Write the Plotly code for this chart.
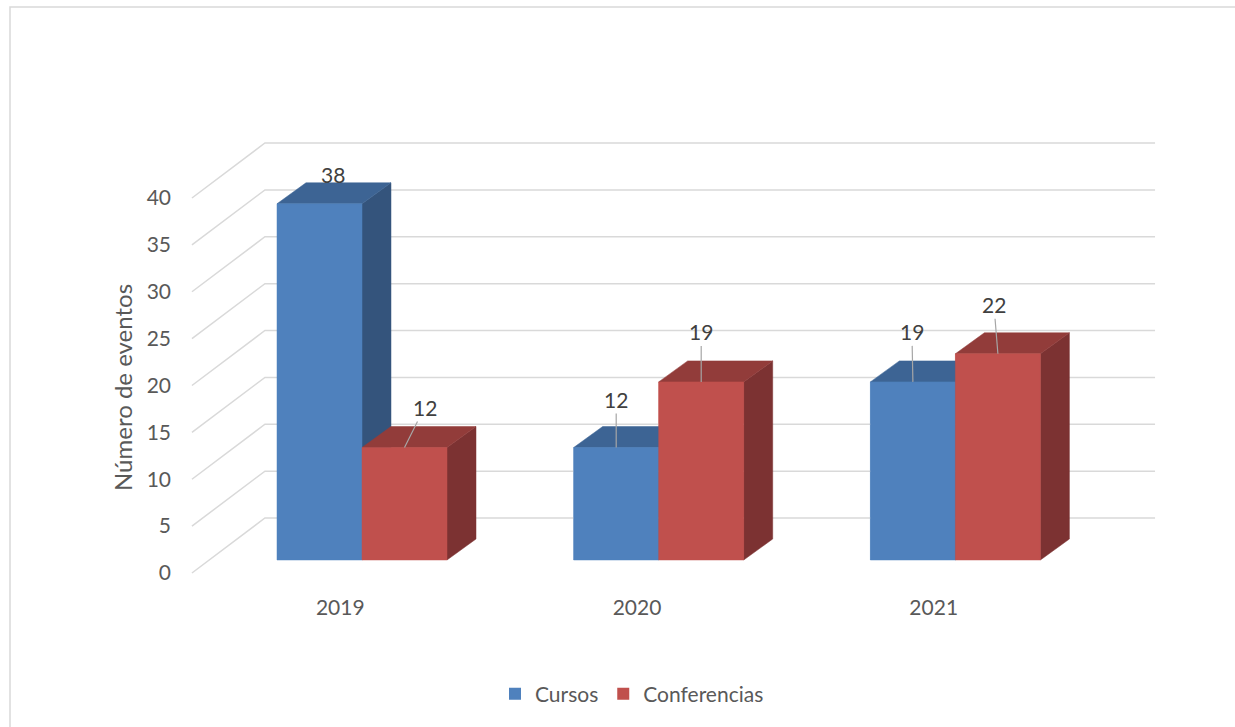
import plotly.graph_objects as go

# ---- data ----
years = ["2019", "2020", "2021"]
cursos = [38, 12, 19]
conferencias = [12, 19, 22]
series_names = ["Cursos", "Conferencias"]
y_ticks = [0, 5, 10, 15, 20, 25, 30, 35, 40]

# ---- styling ----
FRONT = ["#4F81BD", "#C0504D"]
TOP = ["#3D6494", "#923C3A"]
SIDE = ["#34547C", "#7C3232"]
GRID = "#D9D9D9"
TXT = "#595959"
FONT = "Lato"

# page layout (pixels) and the pseudo-3D projection
W, H = 1235, 727
L, R, T, B = 172, 1180, 100, 593
PX_PER_CAT = 296.7          # horizontal pixels per category
PX_PER_UNIT = 9.375         # vertical pixels per value unit
CAT0_PX = 340.3             # pixel x of first category centre on the front plane
ZERO_PX = 573.0             # pixel y of value 0 on the front plane

WALL_DX, WALL_DY = 73 / PX_PER_CAT, 55 / PX_PER_UNIT   # front plane -> back wall
BAR_SHIFT_X, BAR_BASE = 21.7 / PX_PER_CAT, 13 / PX_PER_UNIT  # bar front plane
BAR_DX, BAR_DY = 29 / PX_PER_CAT, 21 / PX_PER_UNIT     # bar depth
BAR_W = 85 / PX_PER_CAT

x_range = [(L - CAT0_PX) / PX_PER_CAT, (R - CAT0_PX) / PX_PER_CAT]
y_range = [(ZERO_PX - B) / PX_PER_UNIT, (ZERO_PX - T) / PX_PER_UNIT]

fig = go.Figure()

# back wall gridlines plus the receding lines on the left side wall
gx, gy = [], []
left, right = -0.5, len(years) - 0.5
for v in y_ticks:
    gx += [left, left + WALL_DX, right + WALL_DX, None]
    gy += [v, v + WALL_DY, v + WALL_DY, None]
fig.add_trace(go.Scatter(x=gx, y=gy, mode="lines", line=dict(color=GRID, width=1.5),
                         hoverinfo="skip", showlegend=False))

series = [cursos, conferencias]
x_pos = list(range(len(years)))

# front faces as real bars (also provide the legend entries)
for s, vals in enumerate(series):
    centers = [i + BAR_SHIFT_X + (s - 0.5) * BAR_W for i in x_pos]
    fig.add_trace(go.Bar(x=centers, y=vals, base=BAR_BASE, width=BAR_W,
                         marker=dict(color=FRONT[s], line=dict(width=0)),
                         name=series_names[s], hoverinfo="skip"))


def face(xs, ys, color):
    fig.add_trace(go.Scatter(x=xs + [xs[0]], y=ys + [ys[0]], mode="lines", fill="toself",
                             fillcolor=color, line=dict(color=color, width=0.5),
                             hoverinfo="skip", showlegend=False))


# extruded faces, painted back-to-front, left-to-right
for i in x_pos:
    for s, vals in enumerate(series):
        v = vals[i]
        xl = i + BAR_SHIFT_X + (s - 1) * BAR_W
        xr = xl + BAR_W
        b, t = BAR_BASE, BAR_BASE + v
        face([xr, xr + BAR_DX, xr + BAR_DX, xr], [b, b + BAR_DY, t + BAR_DY, t], SIDE[s])
        face([xl, xl + BAR_DX, xr + BAR_DX, xr], [t, t + BAR_DY, t + BAR_DY, t], TOP[s])
        face([xl, xr, xr, xl], [b, b, t, t], FRONT[s])

# value labels with leader lines (pixel offsets of each label)
label_offsets = {
    (0, 0): (13, -29, False), (0, 1): (20, -40, True),
    (1, 0): (0, -48, True), (1, 1): (0, -50, True),
    (2, 0): (-1, -50, True), (2, 1): (-4, -49, True),
}
for i in x_pos:
    for s, vals in enumerate(series):
        v = vals[i]
        cx = i + BAR_SHIFT_X + (s - 0.5) * BAR_W
        ax, ay, arrow = label_offsets[(i, s)]
        common = dict(x=cx, y=BAR_BASE + v, text=str(v),
                      font=dict(family=FONT, size=21, color="#404040"))
        if arrow:
            fig.add_annotation(**common, showarrow=True, arrowhead=0, arrowwidth=1.2,
                               arrowcolor="#A6A6A6", ax=ax, ay=ay, standoff=0)
        else:
            fig.add_annotation(**common, showarrow=False, xshift=ax, yshift=-ay)

# vertical axis title
fig.add_annotation(text="Número de eventos", textangle=-90, showarrow=False,
                   xref="paper", yref="paper",
                   x=(122 - L) / (R - L), y=(B - 388) / (B - T),
                   xanchor="center", yanchor="middle",
                   font=dict(family=FONT, size=24, color=TXT))

# outer chart border
fig.add_shape(type="rect", xref="paper", yref="paper",
              x0=(10 - L) / (R - L), x1=(W + 10 - L) / (R - L),
              y0=(B - (H + 10)) / (B - T), y1=(B - 7) / (B - T),
              line=dict(color=GRID, width=1.5), fillcolor="rgba(0,0,0,0)")

fig.update_layout(
    width=W, height=H,
    margin=dict(l=L, r=W - R, t=T, b=H - B),
    paper_bgcolor="white", plot_bgcolor="white",
    barmode="overlay",
    font=dict(family=FONT, color=TXT),
    showlegend=True,
    legend=dict(orientation="h", xref="container", yref="container",
                x=632 / W, y=1 - 694 / H, xanchor="center", yanchor="middle",
                font=dict(family=FONT, size=21, color=TXT)),
    xaxis=dict(range=x_range, tickmode="array", tickvals=x_pos, ticktext=years,
               showgrid=False, zeroline=False, showline=False, ticks="",
               tickfont=dict(family=FONT, size=21, color=TXT), fixedrange=True),
    yaxis=dict(range=y_range, tickmode="array", tickvals=y_ticks,
               ticktext=[str(t) for t in y_ticks],
               showgrid=False, zeroline=False, showline=False, ticks="",
               tickfont=dict(family=FONT, size=21, color=TXT),
               fixedrange=True),
)

fig.write_html("out.html")
